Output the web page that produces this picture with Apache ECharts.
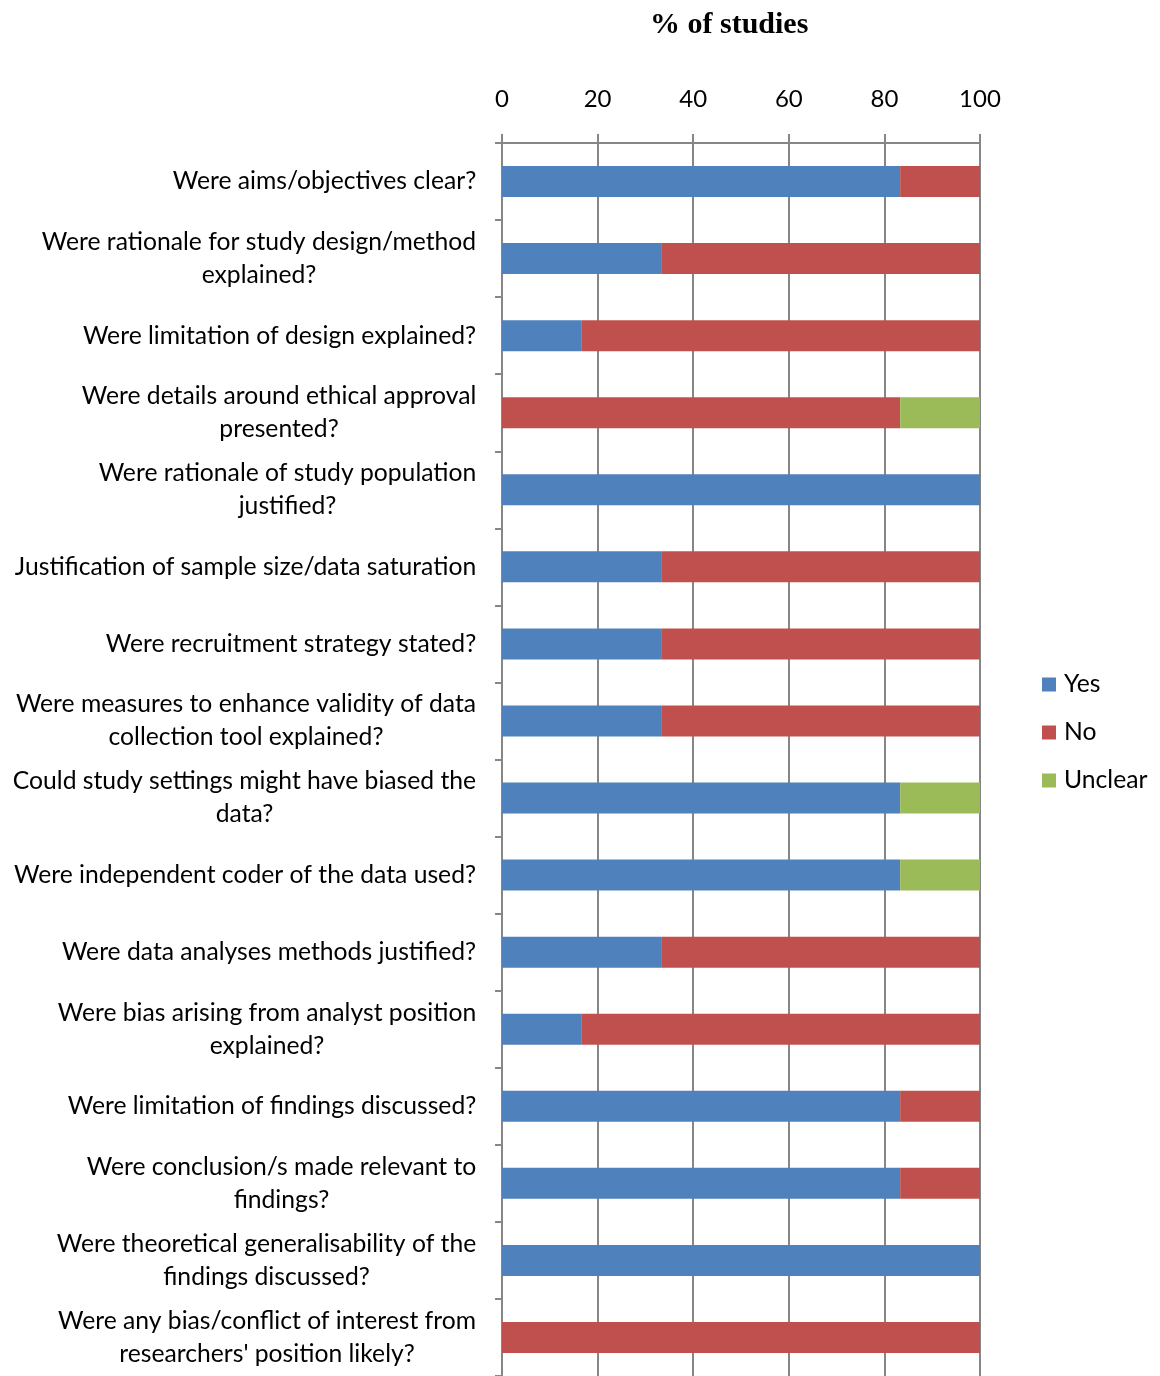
<!DOCTYPE html>
<html><head><meta charset="utf-8">
<script src="https://cdn.jsdelivr.net/npm/echarts@6/dist/echarts.min.js"></script>
<style>html,body{margin:0;padding:0;background:#fff}#c{width:1160px;height:1376px}</style>
</head><body><div id="c"></div>
<script>
const categories = [
  "Were aims/objectives clear?",
  "Were rationale for study design/method\nexplained?",
  "Were limitation of design explained?",
  "Were details around ethical approval\npresented?",
  "Were rationale of study population\njustified?",
  "Justification of sample size/data saturation",
  "Were recruitment strategy stated?",
  "Were measures to enhance validity of data\ncollection tool explained?",
  "Could study settings might have biased the\ndata?",
  "Were independent coder of the data used?",
  "Were data analyses methods justified?",
  "Were bias arising from analyst position\nexplained?",
  "Were limitation of findings discussed?",
  "Were conclusion/s made relevant to\nfindings?",
  "Were theoretical generalisability of the\nfindings discussed?",
  "Were any bias/conflict of interest from\nresearchers' position likely?"
];
const yesValues = [83.3, 33.3, 16.7, 0, 100, 33.3, 33.3, 33.3, 83.3, 83.3, 33.3, 16.7, 83.3, 83.3, 100, 0];
const noValues = [16.7, 66.7, 83.3, 83.3, 0, 66.7, 66.7, 66.7, 0, 0, 66.7, 83.3, 16.7, 16.7, 0, 100];
const unclearValues = [0, 0, 0, 16.7, 0, 0, 0, 0, 16.7, 16.7, 0, 0, 0, 0, 0, 0];
const xTicks = [0, 20, 40, 60, 80, 100];

const labelFont = 'Lato';
const labelSize = 24.7;

// rich styles: each label's lines share a fixed width so they centre within the block
const ctx = document.createElement('canvas').getContext('2d');
ctx.font = labelSize + 'px ' + labelFont;
const rich = {};
categories.forEach((c, i) => {
  const w = Math.max(...c.split('\n').map(s => ctx.measureText(s).width));
  rich['r' + i] = {width: Math.ceil(w) + 1, align: 'center', fontFamily: labelFont, fontSize: labelSize, color: '#000', lineHeight: 33};
});

const chart = echarts.init(document.getElementById('c'), null, {renderer: 'canvas'});
const mk = (name, data, color) => ({
  name, type: 'bar', stack: 'all', data, barWidth: 31,
  itemStyle: {color}, emphasis: {disabled: true}
});
chart.setOption({
  animation: false,
  backgroundColor: '#fff',
  title: {
    text: '% of studies', left: 645, top: 5,
    textStyle: {fontFamily: 'Liberation Serif', fontWeight: 'bold', fontSize: 30, color: '#000'}
  },
  legend: {
    orient: 'vertical', left: 1042, top: 672, padding: 0, itemWidth: 14, itemHeight: 14, itemGap: 23,
    icon: 'rect',
    textStyle: {fontFamily: labelFont, fontSize: labelSize, color: '#000', padding: [0, 0, 0, 3]},
    data: ['Yes', 'No', 'Unclear']
  },
  grid: {left: 502, top: 143, width: 478, height: 1235, containLabel: false},
  xAxis: {
    type: 'value', position: 'top', min: 0, max: 100, interval: 20,
    axisLine: {show: true, lineStyle: {color: '#868686', width: 2}},
    axisTick: {show: true, length: 9, lineStyle: {color: '#868686', width: 2}},
    splitLine: {show: true, lineStyle: {color: '#868686', width: 2}},
    axisLabel: {
      margin: 32, fontFamily: labelFont, fontSize: 24, color: '#000',
      formatter: v => xTicks.includes(v) ? String(v) : ''
    }
  },
  yAxis: {
    type: 'category', inverse: true, data: categories,
    axisLine: {show: true, lineStyle: {color: '#868686', width: 2}},
    axisTick: {show: true, length: 7, lineStyle: {color: '#868686', width: 2}},
    axisLabel: {
      margin: 25, fontFamily: labelFont, fontSize: labelSize, color: '#000',
      align: 'right', lineHeight: 33, interval: 0, rich,
      formatter: (v, i) => v.split('\n').map(s => '{r' + i + '|' + s + '}').join('\n')
    }
  },
  series: [
    mk('Yes', yesValues, '#4F81BD'),
    mk('No', noValues, '#C0504D'),
    mk('Unclear', unclearValues, '#9BBB59')
  ]
});
</script></body></html>
